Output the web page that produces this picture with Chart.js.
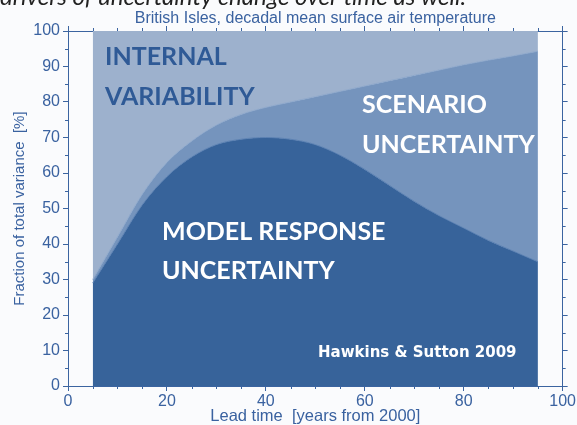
<!DOCTYPE html>
<html>
<head>
<meta charset="utf-8">
<script src="https://cdn.jsdelivr.net/npm/chart.js@4.4.1/dist/chart.umd.min.js"></script>
<style>
  html, body { margin: 0; padding: 0; background: #fafbfd; }
  #wrap { position: relative; width: 577px; height: 425px; }
</style>
</head>
<body>
<div id="wrap"><canvas id="chart"></canvas></div>
<script>
// lead time, years from 2000
const years = [5, 10, 15, 20, 25, 30, 35, 40, 45, 50, 55, 60, 65, 70, 75, 80, 85, 90, 95];
// fraction of total variance [%] per source (stacked from the bottom)
const modelResponse = [29, 40, 51, 59, 64.5, 68, 69.5, 70, 69.5, 68, 65, 61, 56.5, 52, 48, 44.5, 41, 38, 35];
const scenario = [1, 2, 3, 4, 4.5, 5.5, 7, 8.5, 10.5, 13.5, 18, 23.5, 29.5, 35.5, 41, 46, 50.8, 55, 59.3];
const internal = [70, 58, 46, 37, 31, 26.5, 23.5, 21.5, 20, 18.5, 17, 15.5, 14, 12.5, 11, 9.5, 8.2, 7, 5.7];

const xTicks = [0, 20, 40, 60, 80, 100];
const yTicks = [0, 10, 20, 30, 40, 50, 60, 70, 80, 90, 100];

const axisColor = '#3b64a0';
const textBlue = '#3a62a0';

const toPoints = vals => vals.map((v, i) => ({ x: years[i], y: v }));

// the little in-between tick marks on all four sides
const minorTicks = {
    id: 'minorTicks',
    afterDraw(chart) {
        const ctx = chart.ctx;
        const { x, x2, y, y2 } = chart.scales;
        ctx.save();
        ctx.strokeStyle = axisColor;
        ctx.lineWidth = 1;
        ctx.beginPath();
        for (let v = 5; v < 100; v += 5) {
            if (v % 20 !== 0) {
                const px = Math.round(x.getPixelForValue(v)) + 0.5;
                ctx.moveTo(px, x.top); ctx.lineTo(px, x.top + 3);
                ctx.moveTo(px, x2.bottom); ctx.lineTo(px, x2.bottom - 3);
            }
            if (v % 10 !== 0) {
                const py = Math.round(y.getPixelForValue(v)) + 0.5;
                ctx.moveTo(y.right, py); ctx.lineTo(y.right - 3, py);
                ctx.moveTo(y2.left, py); ctx.lineTo(y2.left + 3, py);
            }
        }
        ctx.stroke();
        ctx.restore();
    }
};

// title, region names and the cut caption line from the slide
const labels = {
    id: 'labels',
    afterDraw(chart) {
        const ctx = chart.ctx;
        const area = chart.chartArea;
        ctx.save();

        ctx.fillStyle = '#222';
        ctx.font = 'italic 24px Lato';
        ctx.textBaseline = 'alphabetic';
        ctx.textAlign = 'left';
        ctx.fillText('drivers of uncertainty change over time as well.', 0, 5);

        ctx.fillStyle = textBlue;
        ctx.font = '16px "Liberation Sans"';
        ctx.textAlign = 'center';
        ctx.fillText('British Isles, decadal mean surface air temperature', (area.left + area.right) / 2, 23);

        ctx.textAlign = 'left';
        ctx.font = 'bold 25px Lato';
        ctx.fillStyle = '#2f5a96';
        ctx.fillText('INTERNAL', 105, 65);
        ctx.fillText('VARIABILITY', 105, 105);

        ctx.fillStyle = '#ffffff';
        ctx.fillText('SCENARIO', 362, 113);
        ctx.fillText('UNCERTAINTY', 362, 153);
        ctx.fillText('MODEL RESPONSE', 162, 240);
        ctx.fillText('UNCERTAINTY', 162, 279);

        ctx.font = 'bold 15px "DejaVu Sans"';
        ctx.fillText('Hawkins & Sutton 2009', 318, 357);
        ctx.restore();
    }
};

const tickFont = { family: 'Liberation Sans', size: 16 };
const fixedSize = (w, h) => scale => {
    if (w !== null) scale.width = w;
    if (h !== null) scale.height = h;
};

new Chart(document.getElementById('chart'), {
    type: 'line',
    data: {
        datasets: [
            {
                label: 'Model response uncertainty',
                data: toPoints(modelResponse),
                backgroundColor: '#37639a',
                borderColor: '#5a80b2',
                borderWidth: 1,
                fill: 'origin'
            },
            {
                label: 'Scenario uncertainty',
                data: toPoints(scenario),
                backgroundColor: '#7594bd',
                borderColor: '#8ea8cb',
                borderWidth: 1,
                fill: '-1'
            },
            {
                label: 'Internal variability',
                data: toPoints(internal),
                backgroundColor: '#9db1cd',
                borderColor: '#9db1cd',
                borderWidth: 0,
                fill: '-1'
            }
        ]
    },
    options: {
        responsive: true,
        maintainAspectRatio: false,
        animation: false,
        events: [],
        elements: {
            point: { radius: 0 },
            line: { tension: 0.4, cubicInterpolationMode: 'monotone' }
        },
        layout: { padding: 0 },
        plugins: {
            legend: { display: false },
            tooltip: { enabled: false }
        },
        scales: {
            x: {
                type: 'linear',
                position: 'bottom',
                min: 0,
                max: 100,
                afterFit: fixedSize(null, 39),
                afterBuildTicks: s => { s.ticks = xTicks.map(v => ({ value: v })); },
                ticks: { color: textBlue, font: tickFont, padding: 1, maxRotation: 0 },
                grid: { drawOnChartArea: false, tickLength: 5, color: axisColor },
                border: { color: axisColor, width: 1 },
                title: {
                    display: true,
                    text: 'Lead time  [years from 2000]',
                    color: textBlue,
                    font: { family: 'Liberation Sans', size: 16.5 },
                    padding: { top: 0, bottom: -1 }
                }
            },
            x2: {
                type: 'linear',
                position: 'top',
                min: 0,
                max: 100,
                afterFit: fixedSize(null, 31),
                afterBuildTicks: s => { s.ticks = xTicks.map(v => ({ value: v })); },
                ticks: { display: false },
                grid: { drawOnChartArea: false, tickLength: 5, color: axisColor },
                border: { color: axisColor, width: 1 }
            },
            y: {
                position: 'left',
                stacked: true,
                min: 0,
                max: 100,
                afterFit: fixedSize(68, null),
                afterBuildTicks: s => { s.ticks = yTicks.map(v => ({ value: v })); },
                ticks: { color: textBlue, font: tickFont, padding: 3 },
                grid: { drawOnChartArea: false, tickLength: 5, color: axisColor },
                border: { color: axisColor, width: 1 },
                title: {
                    display: true,
                    text: 'Fraction of total variance  [%]',
                    color: textBlue,
                    font: { family: 'Liberation Sans', size: 15 },
                    padding: { top: 11, bottom: 0 }
                }
            },
            y2: {
                position: 'right',
                min: 0,
                max: 100,
                afterFit: fixedSize(14, null),
                afterBuildTicks: s => { s.ticks = yTicks.map(v => ({ value: v })); },
                ticks: { display: false },
                grid: { drawOnChartArea: false, tickLength: 5, color: axisColor },
                border: { color: axisColor, width: 1 }
            }
        }
    },
    plugins: [minorTicks, labels]
});
</script>
</body>
</html>
